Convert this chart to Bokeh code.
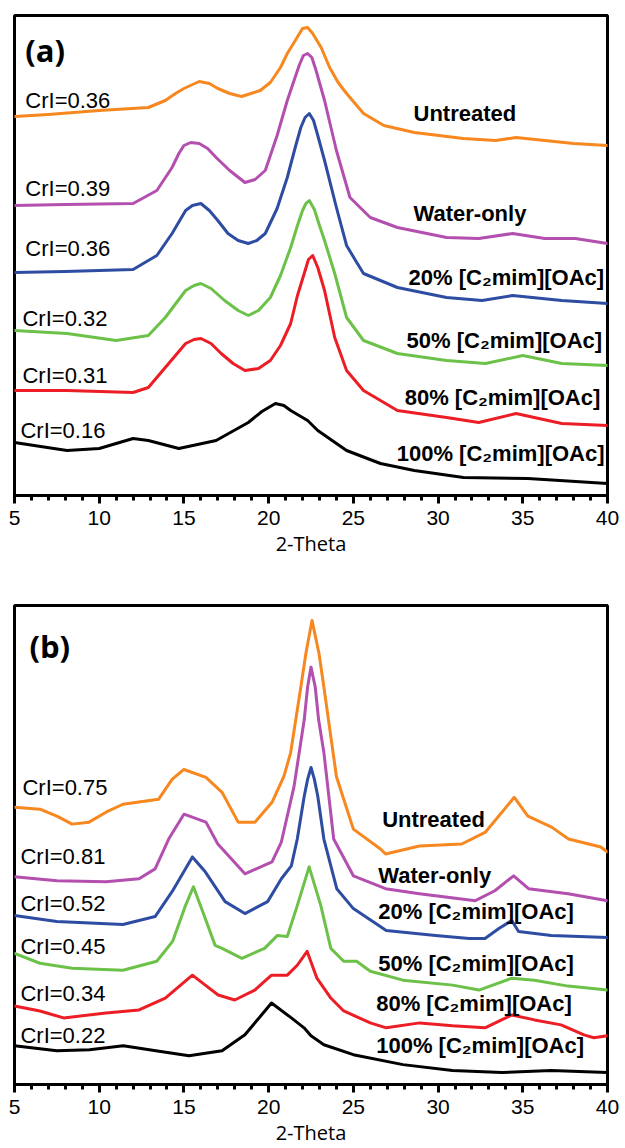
from bokeh.plotting import figure
from bokeh.models import Range1d, Label, FixedTicker
from bokeh.layouts import column
from bokeh.embed import file_html
from bokeh.resources import INLINE

# ---------------- data: panel (a) ----------------
a_untreated_x = [5, 7, 10, 12.9, 13.9, 14.5, 15, 15.9, 16.5, 17, 17.7, 18.4, 19.5, 20.1, 20.7, 21.1, 21.5, 22.0, 22.3, 22.6, 23.1, 23.6, 24.1, 24.6, 25.6, 26.8, 28.6, 31.5, 33.4, 34.6, 36.3, 38, 40]
a_untreated_y = [379, 381, 385, 388, 395, 402, 407, 414, 412, 407, 402, 399, 405, 413, 428, 442, 453, 467, 468, 462, 448, 428, 413, 402, 382, 370, 363, 357, 355, 358, 355, 352, 350]

a_water_x = [5, 8, 12, 13.4, 14.3, 14.7, 15, 15.4, 15.9, 16.4, 16.9, 17.7, 18.6, 19.2, 19.8, 20.5, 21.1, 21.5, 21.8, 22.05, 22.3, 22.55, 22.8, 23.3, 24.0, 24.8, 26.0, 27.6, 30.5, 32.4, 34.4, 36.3, 38.1, 40]
a_water_y = [290, 291, 292, 305, 328, 342, 350, 353, 352, 347, 338, 325, 313, 316, 325, 360, 395, 415, 430, 440, 442, 438, 425, 395, 345, 298, 278, 268, 258, 257, 262, 257, 257, 252]

a_il20_x = [5, 8, 10, 12, 13.4, 14.3, 15.1, 15.5, 16.0, 16.5, 17.0, 17.6, 18.2, 18.8, 19.3, 19.8, 20.5, 21.1, 21.6, 21.9, 22.15, 22.4, 22.65, 22.9, 23.3, 24.0, 24.6, 25.2, 25.6, 27.6, 30.5, 32.6, 34.4, 37.3, 40]
a_il20_y = [223, 224, 225, 226, 240, 262, 285, 290, 292, 285, 275, 262, 255, 252, 255, 262, 287, 318, 350, 368, 378, 382, 375, 360, 335, 288, 250, 233, 222, 208, 198, 195, 200, 195, 192]

a_il50_x = [5, 8.1, 11, 12.9, 13.9, 15.1, 15.6, 16, 16.6, 17.4, 18.2, 18.8, 19.4, 20.1, 20.7, 21.3, 21.7, 22.0, 22.2, 22.4, 22.7, 23.0, 23.3, 23.9, 24.6, 25.6, 27.6, 30.5, 32.8, 35, 37.3, 40]
a_il50_y = [165, 162, 155, 160, 178, 205, 210, 212, 207, 195, 185, 180, 185, 198, 220, 248, 270, 285, 292, 295, 286, 270, 255, 222, 178, 155, 142, 135, 132, 140, 132, 130]

a_il80_x = [5, 8.1, 12, 12.9, 13.9, 15.1, 15.6, 16, 16.6, 17.2, 17.9, 18.6, 19.4, 20.1, 20.7, 21.3, 21.7, 22.1, 22.35, 22.6, 22.9, 23.3, 23.9, 24.6, 25.6, 27.6, 30.5, 32.4, 34.6, 37.3, 40]
a_il80_y = [105, 105, 103, 108, 128, 152, 156, 157, 152, 142, 132, 125, 127, 135, 150, 172, 200, 222, 236, 240, 228, 205, 158, 125, 105, 85, 78, 73, 82, 72, 70]

a_il100_x = [5, 8.1, 10, 12, 12.9, 14.7, 16.9, 18.8, 19.6, 20.4, 20.9, 21.3, 22.3, 22.9, 24.6, 26.6, 28.6, 31.5, 35.3, 40]
a_il100_y = [53, 45, 47, 57, 55, 47, 55, 73, 84, 92, 90, 85, 75, 65, 45, 32, 25, 18, 17, 12]

# ---------------- data: panel (b) ----------------
b_untreated_x = [5, 6.5, 7.5, 8.4, 9.4, 10.4, 11.4, 13.5, 14.3, 15.0, 16.3, 17.25, 18.2, 19.2, 20.2, 20.9, 21.3, 21.9, 22.2, 22.56, 22.97, 23.26, 24.0, 25.0, 26.6, 26.9, 28.9, 31.4, 32.8, 34.5, 35.3, 36.7, 37.7, 39.6, 40]
b_untreated_y = [279, 277, 270, 262, 264, 274, 282, 287, 307, 317, 309, 294, 264, 264, 284, 310, 334, 400, 434, 467, 434, 400, 310, 257, 237, 232, 240, 242, 254, 289, 270, 259, 247, 239, 234]

b_water_x = [5, 7.5, 10.4, 12.35, 13.3, 14.1, 15.0, 16.3, 17.0, 18.6, 20.2, 20.75, 21.5, 22.1, 22.3, 22.5, 22.75, 22.95, 23.26, 23.84, 25.0, 26.9, 28.9, 32.2, 33.35, 34.46, 35.34, 37.67, 40]
b_water_y = [209, 205, 204, 207, 217, 247, 272, 264, 242, 212, 224, 244, 300, 367, 400, 420, 400, 367, 334, 247, 210, 197, 192, 185, 195, 210, 197, 192, 185]

b_il20_x = [5, 7.5, 11.4, 13.3, 14.3, 15.5, 16.26, 17.43, 18.6, 19.94, 20.75, 21.34, 21.69, 22.1, 22.3, 22.5, 22.7, 22.9, 23.26, 24.02, 25.0, 26.94, 29.85, 31.84, 32.77, 33.59, 34.35, 34.75, 36.68, 40]
b_il20_y = [170, 164, 161, 169, 194, 229, 214, 184, 172, 184, 207, 220, 247, 290, 307, 319, 307, 290, 247, 197, 177, 155, 150, 147, 147, 157, 165, 154, 150, 148]

b_il50_x = [5, 6.5, 8.4, 11.4, 13.4, 14.33, 15.09, 15.56, 16.26, 16.84, 17.25, 18.42, 19.76, 20.52, 21.1, 21.69, 22.39, 23.08, 23.67, 24.43, 25.19, 26.0, 27.93, 30.85, 32.42, 34.35, 35.69, 37.67, 40]
b_il50_y = [132, 122, 117, 115, 124, 144, 180, 199, 167, 140, 137, 127, 137, 150, 149, 180, 219, 180, 137, 124, 124, 114, 105, 100, 95, 107, 105, 99, 95]

b_il80_x = [5, 6.5, 7.9, 10.4, 12.35, 13.9, 15.5, 16.26, 17.02, 18.0, 19.18, 20.17, 21.1, 21.69, 22.27, 22.85, 23.67, 24.43, 26.0, 26.94, 28.92, 30.85, 32.77, 34.35, 35.69, 37.26, 38.61, 39.19, 40]
b_il80_y = [79, 74, 67, 72, 75, 87, 110, 100, 90, 85, 95, 110, 110, 120, 134, 107, 87, 74, 62, 57, 62, 59, 57, 70, 65, 60, 50, 47, 49]

b_il100_x = [5, 7.5, 9.43, 11.42, 13.34, 15.3, 17.25, 18.6, 20.17, 21.34, 22.09, 22.5, 23.26, 25.0, 27.93, 30.85, 33.76, 36.68, 40]
b_il100_y = [39, 34, 35, 39, 34, 29, 34, 50, 82, 67, 57, 49, 40, 30, 20, 14, 12, 14, 12]

series_names = ["Untreated", "Water-only", "20% [C\u2082mim][OAc]", "50% [C\u2082mim][OAc]",
                "80% [C\u2082mim][OAc]", "100% [C\u2082mim][OAc]"]
series_colors = ["#F7871F", "#B34FAE", "#2E4DA2", "#6CC148", "#EC1D25", "#000000"]
crl_a = ["CrI=0.36", "CrI=0.39", "CrI=0.36", "CrI=0.32", "CrI=0.31", "CrI=0.16"]
crl_b = ["CrI=0.75", "CrI=0.81", "CrI=0.52", "CrI=0.45", "CrI=0.34", "CrI=0.22"]
x_ticks = [5, 10, 15, 20, 25, 30, 35, 40]

# label positions (layout)
a_crl_pos = [(5.64, 395), (5.64, 307), (5.64, 247), (5.47, 177), (5.47, 120), (5.35, 65)]
a_name_pos = [(28.55, 382), (28.55, 282), (28.26, 218), (28.14, 155), (28.03, 98), (27.56, 42)]
b_crl_pos = [(5.47, 299), (5.35, 229), (5.35, 182), (5.35, 139), (5.35, 92), (5.35, 49)]
b_name_pos = [(26.7, 267), (26.47, 210), (26.47, 174), (26.47, 122), (26.35, 82), (26.35, 39)]


def make_panel(tag, tag_pos, xs, ys, crl, crl_pos, name_pos, height, ymax, borders):
    left, right, top, bottom = borders
    p = figure(width=625, height=height, output_backend="svg", toolbar_location=None,
               x_range=Range1d(5, 40), y_range=Range1d(0, ymax), y_axis_location=None,
               min_border_left=left, min_border_right=right, min_border_top=top,
               min_border_bottom=bottom)
    p.grid.visible = False
    p.outline_line_color = "black"
    p.outline_line_width = 3
    p.background_fill_color = "white"
    p.border_fill_color = "white"
    ax = p.xaxis[0]
    ax.ticker = FixedTicker(ticks=x_ticks, minor_ticks=list(range(5, 41)))
    ax.axis_line_width = 3
    ax.major_tick_line_width = 3
    ax.minor_tick_line_width = 3
    ax.major_tick_in = 0
    ax.major_tick_out = 8
    ax.minor_tick_in = 0
    ax.minor_tick_out = 5
    ax.major_label_text_font = "Liberation Sans"
    ax.major_label_text_font_size = "21px"
    ax.major_label_text_color = "black"
    ax.major_label_standoff = 7
    ax.axis_label = "2-Theta"
    ax.axis_label_text_font = "Open Sans"
    ax.axis_label_text_font_size = "20px"
    ax.axis_label_text_font_style = "normal"
    ax.axis_label_text_color = "black"
    ax.axis_label_standoff = 2

    for x, y, c in zip(xs, ys, series_colors):
        p.line(x, y, line_width=3, color=c, line_join="round", line_cap="round")

    for t, (lx, ly) in zip(crl, crl_pos):
        p.add_layout(Label(x=lx, y=ly, text=t, text_font="Liberation Sans", text_font_size="22px",
                           text_baseline="middle", text_align="left", text_color="black"))
    for t, (lx, ly) in zip(series_names, name_pos):
        p.add_layout(Label(x=lx, y=ly, text=t, text_font="Liberation Sans", text_font_size="22px",
                           text_font_style="bold", text_baseline="middle", text_align="left",
                           text_color="black"))
    p.add_layout(Label(x=tag_pos[0], y=tag_pos[1], text=tag, text_font="Open Sans",
                       text_font_size="31px", text_font_style="bold", text_baseline="middle",
                       text_align="left", text_color="black"))
    return p


pa = make_panel("(a)", (5.64, 446),
                [a_untreated_x, a_water_x, a_il20_x, a_il50_x, a_il80_x, a_il100_x],
                [a_untreated_y, a_water_y, a_il20_y, a_il50_y, a_il80_y, a_il100_y],
                crl_a, a_crl_pos, a_name_pos, 565, 480, (14, 12, 15, 70))
pb = make_panel("(b)", (5.88, 441),
                [b_untreated_x, b_water_x, b_il20_x, b_il50_x, b_il80_x, b_il100_x],
                [b_untreated_y, b_water_y, b_il20_y, b_il50_y, b_il80_y, b_il100_y],
                crl_b, b_crl_pos, b_name_pos, 583, 482, (7, 18, 40, 61))

layout = column(pa, pb, spacing=0)
open("out.html", "w").write(file_html(layout, INLINE))
